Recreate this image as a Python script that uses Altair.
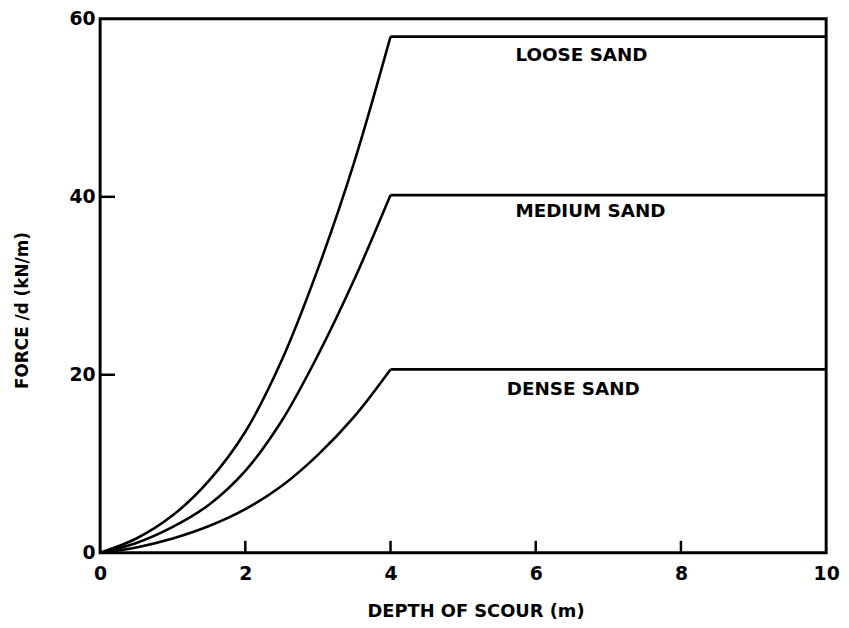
import altair as alt
import pandas as pd

# ---- data ----
depth_curve = [0, 0.5, 1.0, 1.5, 2.0, 2.5, 3.0, 3.5, 4.0]
loose_curve = [0, 1.6, 4.2, 8.1, 13.6, 21.6, 31.9, 43.9, 58.0]
medium_curve = [0, 1.1, 2.9, 5.4, 9.2, 14.8, 22.2, 30.7, 40.2]
dense_curve = [0, 0.6, 1.6, 3.0, 4.9, 7.5, 11.0, 15.3, 20.6]

plateau_depth = [4, 10]
plateau_values = {"LOOSE SAND": 58.0, "MEDIUM SAND": 40.2, "DENSE SAND": 20.6}

label_names = ["LOOSE SAND", "MEDIUM SAND", "DENSE SAND"]
label_x = [5.72, 5.72, 5.6]
label_y = [55.9, 38.4, 18.4]

x_ticks = [0, 2, 4, 6, 8, 10]
y_ticks = [0, 20, 40, 60]
x_inner_ticks = [2, 4, 6, 8]
y_inner_ticks = [20, 40]

W, H = 733, 539
FONT = "DejaVu Sans"

rows = []
for name, vals in [("LOOSE SAND", loose_curve), ("MEDIUM SAND", medium_curve), ("DENSE SAND", dense_curve)]:
    for d, v in zip(depth_curve, vals):
        rows.append({"series": name, "depth": d, "force": v})
curve_df = pd.DataFrame(rows)

prow = []
for name, v in plateau_values.items():
    for d in plateau_depth:
        prow.append({"series": name, "depth": d, "force": v})
plateau_df = pd.DataFrame(prow)

labels_df = pd.DataFrame({"name": label_names, "x": label_x, "y": label_y})

xscale = alt.Scale(domain=[0, 10], nice=False, zero=False)
yscale = alt.Scale(domain=[0, 60], nice=False, zero=False)

xaxis = alt.Axis(values=x_ticks, format="d", ticks=False, domain=False, grid=False,
                 labelFont=FONT, labelFontSize=19, labelFontWeight="bold",
                 labelColor="black", labelPadding=12, labelFlush=False,
                 title="DEPTH OF SCOUR (m)", titleFont=FONT, titleFontSize=18,
                 titleFontWeight="bold", titleColor="black",
                 titleX=379, titleY=59, titleAlign="center", titleBaseline="middle")
yaxis = alt.Axis(values=y_ticks, format="d", ticks=False, domain=False, grid=False,
                 labelFont=FONT, labelFontSize=19, labelFontWeight="bold",
                 labelColor="black", labelPadding=5, labelFlush=False,
                 labelBaseline="middle",
                 title="FORCE /d  (kN/m)", titleFont=FONT, titleFontSize=17,
                 titleFontWeight="bold", titleColor="black",
                 titleX=-78, titleY=294, titleAlign="center", titleBaseline="middle",
                 titleAngle=270)

curves = alt.Chart(curve_df).mark_line(color="black", strokeWidth=2.6, interpolate="catmull-rom").encode(
    x=alt.X("depth:Q", scale=xscale, axis=xaxis),
    y=alt.Y("force:Q", scale=yscale, axis=yaxis),
    detail="series:N",
)

plateaus = alt.Chart(plateau_df).mark_line(color="black", strokeWidth=2.8).encode(
    x=alt.X("depth:Q", scale=xscale),
    y=alt.Y("force:Q", scale=yscale),
    detail="series:N",
)

texts = alt.Chart(labels_df).mark_text(
    align="left", baseline="middle", font=FONT, fontSize=18.5, fontWeight="bold", color="black"
).encode(
    x=alt.X("x:Q", scale=xscale),
    y=alt.Y("y:Q", scale=yscale),
    text="name:N",
)

xt = alt.Chart(pd.DataFrame({"t": x_inner_ticks})).mark_rule(color="black", strokeWidth=2.5).encode(
    x=alt.X("t:Q", scale=xscale), y=alt.value(H), y2=alt.value(H - 12)
)
yt = alt.Chart(pd.DataFrame({"t": y_inner_ticks})).mark_rule(color="black", strokeWidth=2.5).encode(
    y=alt.Y("t:Q", scale=yscale), x=alt.value(0), x2=alt.value(15)
)

chart = alt.layer(curves, plateaus, texts, xt, yt).properties(
    width=W, height=H,
    autosize=alt.AutoSizeParams(type="none"),
    padding={"left": 93, "top": 8, "right": 15, "bottom": 70},
).configure(background="white").configure_view(stroke="black", strokeWidth=3)

chart.save("out.html", embed_options={"renderer": "svg", "actions": False})
